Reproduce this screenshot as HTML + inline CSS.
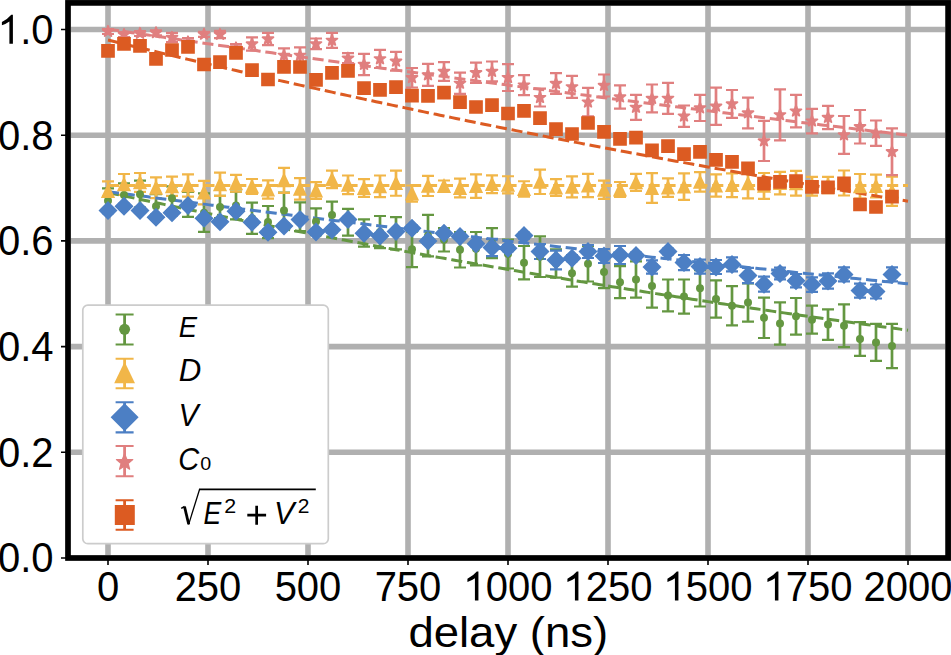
<!DOCTYPE html>
<html><head><meta charset="utf-8"><style>
html,body{margin:0;padding:0;background:#fff;overflow:hidden;width:951px;height:655px;}
svg{display:block;}
</style></head><body>
<svg width="951" height="655" viewBox="0 0 951 655">
<rect width="951" height="655" fill="#fff"/>
<defs><clipPath id="ax"><rect x="68" y="2.9" width="880" height="555.1"/></clipPath></defs>
<g clip-path="url(#ax)"><path d="M108 5.8V555.1M208 5.8V555.1M308 5.8V555.1M408 5.8V555.1M508 5.8V555.1M608 5.8V555.1M708 5.8V555.1M808 5.8V555.1M908 5.8V555.1M70.8 452.3H945.2M70.8 346.6H945.2M70.8 240.9H945.2M70.8 135.2H945.2M70.8 29.5H945.2" stroke="#b0b0b0" stroke-width="5.6" fill="none"/><path d="M108 188.4V213M124 183.4V206.6M140 180.7V207.7M156 194.2V218.2M172 186.3V210.3M188 192V216.8M204 193.4V231.9M220 195.8V218M236 191.6V219.4M252 202.7V233.8M268 206V238.2M284 192.7V228.3M300 202.3V231.1M316 208.3V234.9M332 201.6V228.2M348 208.9V235.6M364 219.4V246.6M380 216V248.2M396 217.1V249.3M412 231.6V267.1M428 214.9V256.4M444 228.2V251.5M460 232.1V267.5M476 232V265.3M492 228.2V258.2M508 239.5V268.5M524 246V279.3M540 236.4V277M556 249.3V277.7M572 260V286.6M588 245.9V281.5M604 255.7V288.1M620 266.2V298.1M636 261.3V297.7M652 264.6V307.6M668 279.5V311.4M684 279.5V313.6M700 270.1V306.5M716 280.4V317.6M732 286.1V325.4M748 283.4V321.6M764 297.7V338M780 302.3V344.7M796 298V334.6M812 305.6V333.7M828 309.4V339.8M844 304.3V347.2M860 322.1V355.8M876 323.9V360.9M892 323.9V368.2" stroke="#649741" stroke-width="2.7" fill="none"/><path d="M102 188.4h12M102 213h12M118 183.4h12M118 206.6h12M134 180.7h12M134 207.7h12M150 194.2h12M150 218.2h12M166 186.3h12M166 210.3h12M182 192h12M182 216.8h12M198 193.4h12M198 231.9h12M214 195.8h12M214 218h12M230 191.6h12M230 219.4h12M246 202.7h12M246 233.8h12M262 206h12M262 238.2h12M278 192.7h12M278 228.3h12M294 202.3h12M294 231.1h12M310 208.3h12M310 234.9h12M326 201.6h12M326 228.2h12M342 208.9h12M342 235.6h12M358 219.4h12M358 246.6h12M374 216h12M374 248.2h12M390 217.1h12M390 249.3h12M406 231.6h12M406 267.1h12M422 214.9h12M422 256.4h12M438 228.2h12M438 251.5h12M454 232.1h12M454 267.5h12M470 232h12M470 265.3h12M486 228.2h12M486 258.2h12M502 239.5h12M502 268.5h12M518 246h12M518 279.3h12M534 236.4h12M534 277h12M550 249.3h12M550 277.7h12M566 260h12M566 286.6h12M582 245.9h12M582 281.5h12M598 255.7h12M598 288.1h12M614 266.2h12M614 298.1h12M630 261.3h12M630 297.7h12M646 264.6h12M646 307.6h12M662 279.5h12M662 311.4h12M678 279.5h12M678 313.6h12M694 270.1h12M694 306.5h12M710 280.4h12M710 317.6h12M726 286.1h12M726 325.4h12M742 283.4h12M742 321.6h12M758 297.7h12M758 338h12M774 302.3h12M774 344.7h12M790 298h12M790 334.6h12M806 305.6h12M806 333.7h12M822 309.4h12M822 339.8h12M838 304.3h12M838 347.2h12M854 322.1h12M854 355.8h12M870 323.9h12M870 360.9h12M886 323.9h12M886 368.2h12" stroke="#649741" stroke-width="2.2" fill="none"/><path d="M108 181.4V196M124 174V194.8M140 173V191.8M156 177.4V198.2M172 176.7V195.9M188 174.3V196.6M204 180.8V204.3M220 172.7V195.8M236 174.85V191.75M252 179V194M268 180.4V198.6M284 167.8V192.8M300 178.05V199.55M316 182.15V198.85M332 170.6V188.2M348 175.5V194.1M364 179.15V196.85M380 175.5V197.1M396 170.65V195.75M412 185.5V201.7M428 175.8V196M444 180.5V191.6M460 178.55V197.45M476 174.3V197.8M492 175.35V193.05M508 176.25V193.35M524 181.25V196.75M540 169.6V194M556 179.15V195.85M572 176.35V197.45M588 173.95V197.05M604 180.7V198.9M620 182V197M636 173.95V190.85M652 173.05V202.95M668 178.4V196.8M684 173.45V199.95M700 172.15V191.65M716 174.3V196.7M732 173.35V197.05M748 168.4V198.4M764 173V198.8M780 171.9V194.3M796 170.9V195.6M812 176.8V195.6M828 176.8V193.2M844 170.5V195.5M860 174V198.6M876 174.7V197.5M892 176.6V205.9" stroke="#f1b648" stroke-width="2.7" fill="none"/><path d="M102 181.4h12M102 196h12M118 174h12M118 194.8h12M134 173h12M134 191.8h12M150 177.4h12M150 198.2h12M166 176.7h12M166 195.9h12M182 174.3h12M182 196.6h12M198 180.8h12M198 204.3h12M214 172.7h12M214 195.8h12M230 174.85h12M230 191.75h12M246 179h12M246 194h12M262 180.4h12M262 198.6h12M278 167.8h12M278 192.8h12M294 178.05h12M294 199.55h12M310 182.15h12M310 198.85h12M326 170.6h12M326 188.2h12M342 175.5h12M342 194.1h12M358 179.15h12M358 196.85h12M374 175.5h12M374 197.1h12M390 170.65h12M390 195.75h12M406 185.5h12M406 201.7h12M422 175.8h12M422 196h12M438 180.5h12M438 191.6h12M454 178.55h12M454 197.45h12M470 174.3h12M470 197.8h12M486 175.35h12M486 193.05h12M502 176.25h12M502 193.35h12M518 181.25h12M518 196.75h12M534 169.6h12M534 194h12M550 179.15h12M550 195.85h12M566 176.35h12M566 197.45h12M582 173.95h12M582 197.05h12M598 180.7h12M598 198.9h12M614 182h12M614 197h12M630 173.95h12M630 190.85h12M646 173.05h12M646 202.95h12M662 178.4h12M662 196.8h12M678 173.45h12M678 199.95h12M694 172.15h12M694 191.65h12M710 174.3h12M710 196.7h12M726 173.35h12M726 197.05h12M742 168.4h12M742 198.4h12M758 173h12M758 198.8h12M774 171.9h12M774 194.3h12M790 170.9h12M790 195.6h12M806 176.8h12M806 195.6h12M822 176.8h12M822 193.2h12M838 170.5h12M838 195.5h12M854 174h12M854 198.6h12M870 174.7h12M870 197.5h12M886 176.6h12M886 205.9h12" stroke="#f1b648" stroke-width="2.2" fill="none"/><path d="M108 208.1V213.1M124 203.8V208.8M140 207.9V212.9M156 214.7V219.7M172 210.3V215.3M188 203V208M204 215.8V220.8M220 219.2V224.2M236 208.7V213.7M252 219.7V224.7M268 229.7V234.7M284 223.5V228.5M300 216.9V221.9M316 229.5V234.5M332 227.3V232.3M348 216.9V221.9M364 230.8V235.8M380 233.5V238.5M396 229.1V234.1M412 225.7V230.7M428 238.5V243.5M444 230.8V235.8M460 233.9V238.9M476 241.3V246.3M492 238.9V256.1M508 245.2V251.2M524 232.6V238.6M540 244V259M556 250.7V269.3M572 255.2V261.2M588 245V258M604 249V263M620 246V264M636 252.5V258.5M652 260.4V273.6M668 248.5V254.5M684 255V270.2M700 259.6V273.6M716 260V274M732 257.4V271.4M748 267.9V283.1M764 276.7V291.7M780 267.7V279.3M796 274V287.4M812 277.4V291.8M828 273.35V288.65M844 267.4V281.4M860 283.6V297.6M876 284.5V298.5M892 267.4V281.4" stroke="#4c7fc4" stroke-width="2.7" fill="none"/><path d="M102 208.1h12M102 213.1h12M118 203.8h12M118 208.8h12M134 207.9h12M134 212.9h12M150 214.7h12M150 219.7h12M166 210.3h12M166 215.3h12M182 203h12M182 208h12M198 215.8h12M198 220.8h12M214 219.2h12M214 224.2h12M230 208.7h12M230 213.7h12M246 219.7h12M246 224.7h12M262 229.7h12M262 234.7h12M278 223.5h12M278 228.5h12M294 216.9h12M294 221.9h12M310 229.5h12M310 234.5h12M326 227.3h12M326 232.3h12M342 216.9h12M342 221.9h12M358 230.8h12M358 235.8h12M374 233.5h12M374 238.5h12M390 229.1h12M390 234.1h12M406 225.7h12M406 230.7h12M422 238.5h12M422 243.5h12M438 230.8h12M438 235.8h12M454 233.9h12M454 238.9h12M470 241.3h12M470 246.3h12M486 238.9h12M486 256.1h12M502 245.2h12M502 251.2h12M518 232.6h12M518 238.6h12M534 244h12M534 259h12M550 250.7h12M550 269.3h12M566 255.2h12M566 261.2h12M582 245h12M582 258h12M598 249h12M598 263h12M614 246h12M614 264h12M630 252.5h12M630 258.5h12M646 260.4h12M646 273.6h12M662 248.5h12M662 254.5h12M678 255h12M678 270.2h12M694 259.6h12M694 273.6h12M710 260h12M710 274h12M726 257.4h12M726 271.4h12M742 267.9h12M742 283.1h12M758 276.7h12M758 291.7h12M774 267.7h12M774 279.3h12M790 274h12M790 287.4h12M806 277.4h12M806 291.8h12M822 273.35h12M822 288.65h12M838 267.4h12M838 281.4h12M854 283.6h12M854 297.6h12M870 284.5h12M870 298.5h12M886 267.4h12M886 281.4h12" stroke="#4c7fc4" stroke-width="2.2" fill="none"/><path d="M108 29V34M124 32.1V37.1M140 31V36M156 30.3V35.3M172 32.9V42.1M188 38V46M204 31.8V36.8M220 30.8V38.1M236 44.2V51.8M252 37.4V50.6M268 32.8V45.2M284 48.3V62.3M300 47.3V63.3M316 38.5V49.2M332 32.85V47.85M348 53.2V63.2M364 53.8V75.1M380 49.8V68M396 51.8V70.7M412 68V87.5M428 63.9V85.9M444 62.2V80.8M460 72.7V93.9M476 62.6V82.8M492 61.5V81.4M508 64.2V91M524 75.2V95.1M540 88.7V106.5M556 73.2V93.8M572 75.9V97.9M588 87.9V116.4M604 74.5V96.5M620 85.3V108.7M636 94.9V119.9M652 84.5V112.4M668 82.9V113.8M684 105.5V126.8M700 94.9V121M716 87.7V124.8M732 90V117.9M748 97.6V128.4M764 120.9V161M780 89.3V140.4M796 94.8V127.4M812 108.8V133.3M828 105.8V129.2M844 116V153.9M860 110V143.5M876 120.5V145.8M892 128.4V175.1" stroke="#e07f7f" stroke-width="2.7" fill="none"/><path d="M102 29h12M102 34h12M118 32.1h12M118 37.1h12M134 31h12M134 36h12M150 30.3h12M150 35.3h12M166 32.9h12M166 42.1h12M182 38h12M182 46h12M198 31.8h12M198 36.8h12M214 30.8h12M214 38.1h12M230 44.2h12M230 51.8h12M246 37.4h12M246 50.6h12M262 32.8h12M262 45.2h12M278 48.3h12M278 62.3h12M294 47.3h12M294 63.3h12M310 38.5h12M310 49.2h12M326 32.85h12M326 47.85h12M342 53.2h12M342 63.2h12M358 53.8h12M358 75.1h12M374 49.8h12M374 68h12M390 51.8h12M390 70.7h12M406 68h12M406 87.5h12M422 63.9h12M422 85.9h12M438 62.2h12M438 80.8h12M454 72.7h12M454 93.9h12M470 62.6h12M470 82.8h12M486 61.5h12M486 81.4h12M502 64.2h12M502 91h12M518 75.2h12M518 95.1h12M534 88.7h12M534 106.5h12M550 73.2h12M550 93.8h12M566 75.9h12M566 97.9h12M582 87.9h12M582 116.4h12M598 74.5h12M598 96.5h12M614 85.3h12M614 108.7h12M630 94.9h12M630 119.9h12M646 84.5h12M646 112.4h12M662 82.9h12M662 113.8h12M678 105.5h12M678 126.8h12M694 94.9h12M694 121h12M710 87.7h12M710 124.8h12M726 90h12M726 117.9h12M742 97.6h12M742 128.4h12M758 120.9h12M758 161h12M774 89.3h12M774 140.4h12M790 94.8h12M790 127.4h12M806 108.8h12M806 133.3h12M822 105.8h12M822 129.2h12M838 116h12M838 153.9h12M854 110h12M854 143.5h12M870 120.5h12M870 145.8h12M886 128.4h12M886 175.1h12" stroke="#e07f7f" stroke-width="2.2" fill="none"/><path d="M108 46.9V54.9M124 39.8V47.8M140 41.8V49.8M156 54.9V62.9M172 46V54M188 42.8V50.8M204 60.5V68.5M220 58.2V66.2M236 48.8V56.8M252 66.1V74.1M268 75.5V83.5M284 62.9V70.9M300 63V71M316 75.9V83.9M332 68.8V76.8M348 66.9V74.9M364 84.2V92.2M380 85.9V93.9M396 83.1V91.1M412 91.7V99.7M428 91.8V99.8M444 88.7V96.7M460 98.2V106.2M476 103V111M492 101.2V109.2M508 109.5V117.5M524 106.9V114.9M540 114.1V122.1M556 125.1V133.1M572 130V138M588 119V127M604 127.8V135.8M620 134.8V142.8M636 133.6V141.6M652 146.4V154.4M668 142.1V150.1M684 150.1V158.1M700 147.9V155.9M716 155.8V163.8M732 157.9V165.9M748 164.4V172.4M764 179.7V187.7M780 177.9V185.9M796 177.1V185.1M812 182.8V190.8M828 183.4V191.4M844 179.3V187.3M860 200.5V208.5M876 203V211M892 192.7V200.7" stroke="#dc5b22" stroke-width="2.7" fill="none"/><path d="M102 46.9h12M102 54.9h12M118 39.8h12M118 47.8h12M134 41.8h12M134 49.8h12M150 54.9h12M150 62.9h12M166 46h12M166 54h12M182 42.8h12M182 50.8h12M198 60.5h12M198 68.5h12M214 58.2h12M214 66.2h12M230 48.8h12M230 56.8h12M246 66.1h12M246 74.1h12M262 75.5h12M262 83.5h12M278 62.9h12M278 70.9h12M294 63h12M294 71h12M310 75.9h12M310 83.9h12M326 68.8h12M326 76.8h12M342 66.9h12M342 74.9h12M358 84.2h12M358 92.2h12M374 85.9h12M374 93.9h12M390 83.1h12M390 91.1h12M406 91.7h12M406 99.7h12M422 91.8h12M422 99.8h12M438 88.7h12M438 96.7h12M454 98.2h12M454 106.2h12M470 103h12M470 111h12M486 101.2h12M486 109.2h12M502 109.5h12M502 117.5h12M518 106.9h12M518 114.9h12M534 114.1h12M534 122.1h12M550 125.1h12M550 133.1h12M566 130h12M566 138h12M582 119h12M582 127h12M598 127.8h12M598 135.8h12M614 134.8h12M614 142.8h12M630 133.6h12M630 141.6h12M646 146.4h12M646 154.4h12M662 142.1h12M662 150.1h12M678 150.1h12M678 158.1h12M694 147.9h12M694 155.9h12M710 155.8h12M710 163.8h12M726 157.9h12M726 165.9h12M742 164.4h12M742 172.4h12M758 179.7h12M758 187.7h12M774 177.9h12M774 185.9h12M790 177.1h12M790 185.1h12M806 182.8h12M806 190.8h12M822 183.4h12M822 191.4h12M838 179.3h12M838 187.3h12M854 200.5h12M854 208.5h12M870 203h12M870 211h12M886 192.7h12M886 200.7h12" stroke="#dc5b22" stroke-width="2.2" fill="none"/><path d="M108 192.49L112 193.35L116 194.21L120 195.07L124 195.93L128 196.78L132 197.64L136 198.49L140 199.34L144 200.18L148 201.03L152 201.87L156 202.71L160 203.55L164 204.39L168 205.22L172 206.06L176 206.89L180 207.72L184 208.54L188 209.37L192 210.19L196 211.01L200 211.83L204 212.65L208 213.47L212 214.28L216 215.09L220 215.9L224 216.71L228 217.51L232 218.32L236 219.12L240 219.92L244 220.72L248 221.52L252 222.31L256 223.1L260 223.89L264 224.68L268 225.47L272 226.25L276 227.04L280 227.82L284 228.6L288 229.38L292 230.15L296 230.93L300 231.7L304 232.47L308 233.24L312 234.01L316 234.77L320 235.53L324 236.29L328 237.05L332 237.81L336 238.57L340 239.32L344 240.08L348 240.83L352 241.57L356 242.32L360 243.07L364 243.81L368 244.55L372 245.29L376 246.03L380 246.77L384 247.5L388 248.24L392 248.97L396 249.7L400 250.43L404 251.15L408 251.88L412 252.6L416 253.32L420 254.04L424 254.76L428 255.47L432 256.19L436 256.9L440 257.61L444 258.32L448 259.03L452 259.73L456 260.44L460 261.14L464 261.84L468 262.54L472 263.24L476 263.93L480 264.63L484 265.32L488 266.01L492 266.7L496 267.39L500 268.08L504 268.76L508 269.44L512 270.13L516 270.81L520 271.48L524 272.16L528 272.83L532 273.51L536 274.18L540 274.85L544 275.52L548 276.19L552 276.85L556 277.52L560 278.18L564 278.84L568 279.5L572 280.15L576 280.81L580 281.47L584 282.12L588 282.77L592 283.42L596 284.07L600 284.72L604 285.36L608 286L612 286.65L616 287.29L620 287.93L624 288.56L628 289.2L632 289.83L636 290.47L640 291.1L644 291.73L648 292.36L652 292.99L656 293.61L660 294.24L664 294.86L668 295.48L672 296.1L676 296.72L680 297.34L684 297.95L688 298.57L692 299.18L696 299.79L700 300.4L704 301.01L708 301.61L712 302.22L716 302.82L720 303.43L724 304.03L728 304.63L732 305.22L736 305.82L740 306.42L744 307.01L748 307.6L752 308.19L756 308.78L760 309.37L764 309.96L768 310.55L772 311.13L776 311.71L780 312.29L784 312.88L788 313.45L792 314.03L796 314.61L800 315.18L804 315.76L808 316.33L812 316.9L816 317.47L820 318.04L824 318.6L828 319.17L832 319.73L836 320.29L840 320.86L844 321.42L848 321.97L852 322.53L856 323.09L860 323.64L864 324.2L868 324.75L872 325.3L876 325.85L880 326.4L884 326.94L888 327.49L892 328.03L896 328.58L900 329.12L904 329.66L908 330.2" stroke="#649741" stroke-width="3" fill="none" stroke-dasharray="11.1 4.8"/><path d="M108 185.6L112 185.6L116 185.6L120 185.6L124 185.6L128 185.6L132 185.6L136 185.6L140 185.6L144 185.6L148 185.6L152 185.6L156 185.6L160 185.6L164 185.6L168 185.6L172 185.6L176 185.6L180 185.6L184 185.6L188 185.6L192 185.6L196 185.6L200 185.6L204 185.6L208 185.6L212 185.6L216 185.6L220 185.6L224 185.6L228 185.6L232 185.6L236 185.6L240 185.6L244 185.6L248 185.6L252 185.6L256 185.6L260 185.6L264 185.6L268 185.6L272 185.6L276 185.6L280 185.6L284 185.6L288 185.6L292 185.6L296 185.6L300 185.6L304 185.6L308 185.6L312 185.6L316 185.6L320 185.6L324 185.6L328 185.6L332 185.6L336 185.6L340 185.6L344 185.6L348 185.6L352 185.6L356 185.6L360 185.6L364 185.6L368 185.6L372 185.6L376 185.6L380 185.6L384 185.6L388 185.6L392 185.6L396 185.6L400 185.6L404 185.6L408 185.6L412 185.6L416 185.6L420 185.6L424 185.6L428 185.6L432 185.6L436 185.6L440 185.6L444 185.6L448 185.6L452 185.6L456 185.6L460 185.6L464 185.6L468 185.6L472 185.6L476 185.6L480 185.6L484 185.6L488 185.6L492 185.6L496 185.6L500 185.6L504 185.6L508 185.6L512 185.6L516 185.6L520 185.6L524 185.6L528 185.6L532 185.6L536 185.6L540 185.6L544 185.6L548 185.6L552 185.6L556 185.6L560 185.6L564 185.6L568 185.6L572 185.6L576 185.6L580 185.6L584 185.6L588 185.6L592 185.6L596 185.6L600 185.6L604 185.6L608 185.6L612 185.6L616 185.6L620 185.6L624 185.6L628 185.6L632 185.6L636 185.6L640 185.6L644 185.6L648 185.6L652 185.6L656 185.6L660 185.6L664 185.6L668 185.6L672 185.6L676 185.6L680 185.6L684 185.6L688 185.6L692 185.6L696 185.6L700 185.6L704 185.6L708 185.6L712 185.6L716 185.6L720 185.6L724 185.6L728 185.6L732 185.6L736 185.6L740 185.6L744 185.6L748 185.6L752 185.6L756 185.6L760 185.6L764 185.6L768 185.6L772 185.6L776 185.6L780 185.6L784 185.6L788 185.6L792 185.6L796 185.6L800 185.6L804 185.6L808 185.6L812 185.6L816 185.6L820 185.6L824 185.6L828 185.6L832 185.6L836 185.6L840 185.6L844 185.6L848 185.6L852 185.6L856 185.6L860 185.6L864 185.6L868 185.6L872 185.6L876 185.6L880 185.6L884 185.6L888 185.6L892 185.6L896 185.6L900 185.6L904 185.6L908 185.6" stroke="#f1b648" stroke-width="3" fill="none" stroke-dasharray="11.1 4.8"/><path d="M108 191.59L112 192.12L116 192.65L120 193.18L124 193.71L128 194.24L132 194.76L136 195.29L140 195.81L144 196.34L148 196.86L152 197.39L156 197.91L160 198.43L164 198.95L168 199.47L172 199.99L176 200.51L180 201.03L184 201.54L188 202.06L192 202.57L196 203.09L200 203.6L204 204.12L208 204.63L212 205.14L216 205.65L220 206.16L224 206.67L228 207.18L232 207.69L236 208.2L240 208.7L244 209.21L248 209.71L252 210.22L256 210.72L260 211.22L264 211.73L268 212.23L272 212.73L276 213.23L280 213.73L284 214.23L288 214.72L292 215.22L296 215.72L300 216.21L304 216.71L308 217.2L312 217.7L316 218.19L320 218.68L324 219.17L328 219.66L332 220.15L336 220.64L340 221.13L344 221.62L348 222.11L352 222.59L356 223.08L360 223.56L364 224.05L368 224.53L372 225.01L376 225.5L380 225.98L384 226.46L388 226.94L392 227.42L396 227.9L400 228.38L404 228.85L408 229.33L412 229.81L416 230.28L420 230.76L424 231.23L428 231.7L432 232.18L436 232.65L440 233.12L444 233.59L448 234.06L452 234.53L456 235L460 235.46L464 235.93L468 236.4L472 236.86L476 237.33L480 237.79L484 238.26L488 238.72L492 239.18L496 239.64L500 240.1L504 240.57L508 241.03L512 241.48L516 241.94L520 242.4L524 242.86L528 243.31L532 243.77L536 244.22L540 244.68L544 245.13L548 245.59L552 246.04L556 246.49L560 246.94L564 247.39L568 247.84L572 248.29L576 248.74L580 249.19L584 249.63L588 250.08L592 250.53L596 250.97L600 251.42L604 251.86L608 252.3L612 252.75L616 253.19L620 253.63L624 254.07L628 254.51L632 254.95L636 255.39L640 255.83L644 256.27L648 256.7L652 257.14L656 257.57L660 258.01L664 258.44L668 258.88L672 259.31L676 259.74L680 260.18L684 260.61L688 261.04L692 261.47L696 261.9L700 262.33L704 262.75L708 263.18L712 263.61L716 264.04L720 264.46L724 264.89L728 265.31L732 265.73L736 266.16L740 266.58L744 267L748 267.42L752 267.84L756 268.26L760 268.68L764 269.1L768 269.52L772 269.94L776 270.36L780 270.77L784 271.19L788 271.6L792 272.02L796 272.43L800 272.85L804 273.26L808 273.67L812 274.08L816 274.5L820 274.91L824 275.32L828 275.73L832 276.13L836 276.54L840 276.95L844 277.36L848 277.76L852 278.17L856 278.57L860 278.98L864 279.38L868 279.79L872 280.19L876 280.59L880 280.99L884 281.39L888 281.8L892 282.2L896 282.59L900 282.99L904 283.39L908 283.79" stroke="#4c7fc4" stroke-width="3" fill="none" stroke-dasharray="11.1 4.8"/><path d="M108 29.13L112 29.72L116 30.31L120 30.9L124 31.49L128 32.08L132 32.67L136 33.26L140 33.84L144 34.43L148 35.02L152 35.6L156 36.19L160 36.77L164 37.35L168 37.93L172 38.52L176 39.1L180 39.68L184 40.26L188 40.84L192 41.42L196 41.99L200 42.57L204 43.15L208 43.72L212 44.3L216 44.87L220 45.45L224 46.02L228 46.59L232 47.16L236 47.74L240 48.31L244 48.88L248 49.45L252 50.02L256 50.58L260 51.15L264 51.72L268 52.28L272 52.85L276 53.41L280 53.98L284 54.54L288 55.11L292 55.67L296 56.23L300 56.79L304 57.35L308 57.91L312 58.47L316 59.03L320 59.59L324 60.15L328 60.7L332 61.26L336 61.82L340 62.37L344 62.92L348 63.48L352 64.03L356 64.58L360 65.14L364 65.69L368 66.24L372 66.79L376 67.34L380 67.89L384 68.43L388 68.98L392 69.53L396 70.08L400 70.62L404 71.17L408 71.71L412 72.25L416 72.8L420 73.34L424 73.88L428 74.42L432 74.97L436 75.51L440 76.05L444 76.58L448 77.12L452 77.66L456 78.2L460 78.74L464 79.27L468 79.81L472 80.34L476 80.88L480 81.41L484 81.94L488 82.48L492 83.01L496 83.54L500 84.07L504 84.6L508 85.13L512 85.66L516 86.19L520 86.71L524 87.24L528 87.77L532 88.29L536 88.82L540 89.34L544 89.87L548 90.39L552 90.91L556 91.44L560 91.96L564 92.48L568 93L572 93.52L576 94.04L580 94.56L584 95.08L588 95.6L592 96.11L596 96.63L600 97.15L604 97.66L608 98.18L612 98.69L616 99.2L620 99.72L624 100.23L628 100.74L632 101.25L636 101.76L640 102.27L644 102.78L648 103.29L652 103.8L656 104.31L660 104.82L664 105.32L668 105.83L672 106.34L676 106.84L680 107.35L684 107.85L688 108.35L692 108.86L696 109.36L700 109.86L704 110.36L708 110.86L712 111.36L716 111.86L720 112.36L724 112.86L728 113.36L732 113.86L736 114.35L740 114.85L744 115.34L748 115.84L752 116.33L756 116.83L760 117.32L764 117.82L768 118.31L772 118.8L776 119.29L780 119.78L784 120.27L788 120.76L792 121.25L796 121.74L800 122.23L804 122.71L808 123.2L812 123.69L816 124.17L820 124.66L824 125.14L828 125.63L832 126.11L836 126.59L840 127.08L844 127.56L848 128.04L852 128.52L856 129L860 129.48L864 129.96L868 130.44L872 130.92L876 131.4L880 131.87L884 132.35L888 132.83L892 133.3L896 133.78L900 134.25L904 134.72L908 135.2" stroke="#e07f7f" stroke-width="3" fill="none" stroke-dasharray="11.1 4.8"/><path d="M108 40.04L112 41.03L116 42.01L120 42.99L124 43.97L128 44.95L132 45.92L136 46.9L140 47.87L144 48.84L148 49.81L152 50.77L156 51.73L160 52.7L164 53.65L168 54.61L172 55.57L176 56.52L180 57.47L184 58.42L188 59.37L192 60.31L196 61.26L200 62.2L204 63.14L208 64.07L212 65.01L216 65.94L220 66.87L224 67.8L228 68.73L232 69.65L236 70.58L240 71.5L244 72.42L248 73.33L252 74.25L256 75.16L260 76.07L264 76.98L268 77.89L272 78.8L276 79.7L280 80.6L284 81.5L288 82.4L292 83.3L296 84.19L300 85.09L304 85.98L308 86.87L312 87.75L316 88.64L320 89.52L324 90.4L328 91.28L332 92.16L336 93.04L340 93.91L344 94.78L348 95.65L352 96.52L356 97.39L360 98.25L364 99.12L368 99.98L372 100.84L376 101.69L380 102.55L384 103.4L388 104.26L392 105.11L396 105.95L400 106.8L404 107.65L408 108.49L412 109.33L416 110.17L420 111.01L424 111.85L428 112.68L432 113.51L436 114.34L440 115.17L444 116L448 116.83L452 117.65L456 118.47L460 119.29L464 120.11L468 120.93L472 121.75L476 122.56L480 123.37L484 124.18L488 124.99L492 125.8L496 126.6L500 127.41L504 128.21L508 129.01L512 129.81L516 130.61L520 131.4L524 132.2L528 132.99L532 133.78L536 134.57L540 135.35L544 136.14L548 136.92L552 137.71L556 138.49L560 139.27L564 140.04L568 140.82L572 141.59L576 142.37L580 143.14L584 143.91L588 144.67L592 145.44L596 146.2L600 146.97L604 147.73L608 148.49L612 149.25L616 150L620 150.76L624 151.51L628 152.26L632 153.01L636 153.76L640 154.51L644 155.26L648 156L652 156.74L656 157.48L660 158.22L664 158.96L668 159.7L672 160.43L676 161.17L680 161.9L684 162.63L688 163.36L692 164.09L696 164.81L700 165.54L704 166.26L708 166.98L712 167.7L716 168.42L720 169.14L724 169.85L728 170.57L732 171.28L736 171.99L740 172.7L744 173.41L748 174.11L752 174.82L756 175.52L760 176.23L764 176.93L768 177.63L772 178.32L776 179.02L780 179.72L784 180.41L788 181.1L792 181.79L796 182.48L800 183.17L804 183.86L808 184.54L812 185.23L816 185.91L820 186.59L824 187.27L828 187.95L832 188.62L836 189.3L840 189.97L844 190.65L848 191.32L852 191.99L856 192.66L860 193.32L864 193.99L868 194.65L872 195.32L876 195.98L880 196.64L884 197.3L888 197.96L892 198.61L896 199.27L900 199.92L904 200.57L908 201.22" stroke="#dc5b22" stroke-width="3" fill="none" stroke-dasharray="11.1 4.8"/><g fill="#649741"><circle cx="108" cy="200.7" r="4"/><circle cx="124" cy="195" r="4"/><circle cx="140" cy="194.2" r="4"/><circle cx="156" cy="206.2" r="4"/><circle cx="172" cy="198.3" r="4"/><circle cx="188" cy="204.4" r="4"/><circle cx="204" cy="212.65" r="4"/><circle cx="220" cy="206.9" r="4"/><circle cx="236" cy="205.5" r="4"/><circle cx="252" cy="218.25" r="4"/><circle cx="268" cy="222.1" r="4"/><circle cx="284" cy="210.5" r="4"/><circle cx="300" cy="216.7" r="4"/><circle cx="316" cy="221.6" r="4"/><circle cx="332" cy="214.9" r="4"/><circle cx="348" cy="222.25" r="4"/><circle cx="364" cy="233" r="4"/><circle cx="380" cy="232.1" r="4"/><circle cx="396" cy="233.2" r="4"/><circle cx="412" cy="249.35" r="4"/><circle cx="428" cy="235.65" r="4"/><circle cx="444" cy="239.85" r="4"/><circle cx="460" cy="249.8" r="4"/><circle cx="476" cy="248.65" r="4"/><circle cx="492" cy="243.2" r="4"/><circle cx="508" cy="254" r="4"/><circle cx="524" cy="262.65" r="4"/><circle cx="540" cy="256.7" r="4"/><circle cx="556" cy="263.5" r="4"/><circle cx="572" cy="273.3" r="4"/><circle cx="588" cy="263.7" r="4"/><circle cx="604" cy="271.9" r="4"/><circle cx="620" cy="282.15" r="4"/><circle cx="636" cy="279.5" r="4"/><circle cx="652" cy="286.1" r="4"/><circle cx="668" cy="295.45" r="4"/><circle cx="684" cy="296.55" r="4"/><circle cx="700" cy="288.3" r="4"/><circle cx="716" cy="299" r="4"/><circle cx="732" cy="305.75" r="4"/><circle cx="748" cy="302.5" r="4"/><circle cx="764" cy="317.85" r="4"/><circle cx="780" cy="323.5" r="4"/><circle cx="796" cy="316.3" r="4"/><circle cx="812" cy="319.65" r="4"/><circle cx="828" cy="324.6" r="4"/><circle cx="844" cy="325.75" r="4"/><circle cx="860" cy="338.95" r="4"/><circle cx="876" cy="342.4" r="4"/><circle cx="892" cy="346.05" r="4"/></g><path d="M108 183L115.1 197.9L100.9 197.9ZM124 176.4L131.1 191.3L116.9 191.3ZM140 174.4L147.1 189.3L132.9 189.3ZM156 179.8L163.1 194.7L148.9 194.7ZM172 178.3L179.1 193.2L164.9 193.2ZM188 177.45L195.1 192.35L180.9 192.35ZM204 184.55L211.1 199.45L196.9 199.45ZM220 176.25L227.1 191.15L212.9 191.15ZM236 175.3L243.1 190.2L228.9 190.2ZM252 178.5L259.1 193.4L244.9 193.4ZM268 181.5L275.1 196.4L260.9 196.4ZM284 172.3L291.1 187.2L276.9 187.2ZM300 180.8L307.1 195.7L292.9 195.7ZM316 182.5L323.1 197.4L308.9 197.4ZM332 171.4L339.1 186.3L324.9 186.3ZM348 176.8L355.1 191.7L340.9 191.7ZM364 180L371.1 194.9L356.9 194.9ZM380 178.3L387.1 193.2L372.9 193.2ZM396 175.2L403.1 190.1L388.9 190.1ZM412 185.6L419.1 200.5L404.9 200.5ZM428 177.9L435.1 192.8L420.9 192.8ZM444 178.05L451.1 192.95L436.9 192.95ZM460 180L467.1 194.9L452.9 194.9ZM476 178.05L483.1 192.95L468.9 192.95ZM492 176.2L499.1 191.1L484.9 191.1ZM508 176.8L515.1 191.7L500.9 191.7ZM524 181L531.1 195.9L516.9 195.9ZM540 173.8L547.1 188.7L532.9 188.7ZM556 179.5L563.1 194.4L548.9 194.4ZM572 178.9L579.1 193.8L564.9 193.8ZM588 177.5L595.1 192.4L580.9 192.4ZM604 181.8L611.1 196.7L596.9 196.7ZM620 181.5L627.1 196.4L612.9 196.4ZM636 174.4L643.1 189.3L628.9 189.3ZM652 180L659.1 194.9L644.9 194.9ZM668 179.6L675.1 194.5L660.9 194.5ZM684 178.7L691.1 193.6L676.9 193.6ZM700 173.9L707.1 188.8L692.9 188.8ZM716 177.5L723.1 192.4L708.9 192.4ZM732 177.2L739.1 192.1L724.9 192.1ZM748 175.4L755.1 190.3L740.9 190.3ZM764 177.9L771.1 192.8L756.9 192.8ZM780 175.1L787.1 190L772.9 190ZM796 175.25L803.1 190.15L788.9 190.15ZM812 178.2L819.1 193.1L804.9 193.1ZM828 177L835.1 191.9L820.9 191.9ZM844 175L851.1 189.9L836.9 189.9ZM860 178.3L867.1 193.2L852.9 193.2ZM876 178.1L883.1 193L868.9 193ZM892 183.25L899.1 198.15L884.9 198.15Z" fill="#f1b648"/><path d="M108 201.1L117.5 210.6L108 220.1L98.5 210.6ZM124 196.8L133.5 206.3L124 215.8L114.5 206.3ZM140 200.9L149.5 210.4L140 219.9L130.5 210.4ZM156 207.7L165.5 217.2L156 226.7L146.5 217.2ZM172 203.3L181.5 212.8L172 222.3L162.5 212.8ZM188 196L197.5 205.5L188 215L178.5 205.5ZM204 208.8L213.5 218.3L204 227.8L194.5 218.3ZM220 212.2L229.5 221.7L220 231.2L210.5 221.7ZM236 201.7L245.5 211.2L236 220.7L226.5 211.2ZM252 212.7L261.5 222.2L252 231.7L242.5 222.2ZM268 222.7L277.5 232.2L268 241.7L258.5 232.2ZM284 216.5L293.5 226L284 235.5L274.5 226ZM300 209.9L309.5 219.4L300 228.9L290.5 219.4ZM316 222.5L325.5 232L316 241.5L306.5 232ZM332 220.3L341.5 229.8L332 239.3L322.5 229.8ZM348 209.9L357.5 219.4L348 228.9L338.5 219.4ZM364 223.8L373.5 233.3L364 242.8L354.5 233.3ZM380 226.5L389.5 236L380 245.5L370.5 236ZM396 222.1L405.5 231.6L396 241.1L386.5 231.6ZM412 218.7L421.5 228.2L412 237.7L402.5 228.2ZM428 231.5L437.5 241L428 250.5L418.5 241ZM444 223.8L453.5 233.3L444 242.8L434.5 233.3ZM460 226.9L469.5 236.4L460 245.9L450.5 236.4ZM476 234.3L485.5 243.8L476 253.3L466.5 243.8ZM492 238L501.5 247.5L492 257L482.5 247.5ZM508 238.7L517.5 248.2L508 257.7L498.5 248.2ZM524 226.1L533.5 235.6L524 245.1L514.5 235.6ZM540 242L549.5 251.5L540 261L530.5 251.5ZM556 250.5L565.5 260L556 269.5L546.5 260ZM572 248.7L581.5 258.2L572 267.7L562.5 258.2ZM588 242L597.5 251.5L588 261L578.5 251.5ZM604 246.5L613.5 256L604 265.5L594.5 256ZM620 245.5L629.5 255L620 264.5L610.5 255ZM636 246L645.5 255.5L636 265L626.5 255.5ZM652 257.5L661.5 267L652 276.5L642.5 267ZM668 242L677.5 251.5L668 261L658.5 251.5ZM684 253.1L693.5 262.6L684 272.1L674.5 262.6ZM700 257.1L709.5 266.6L700 276.1L690.5 266.6ZM716 257.5L725.5 267L716 276.5L706.5 267ZM732 254.9L741.5 264.4L732 273.9L722.5 264.4ZM748 266L757.5 275.5L748 285L738.5 275.5ZM764 274.7L773.5 284.2L764 293.7L754.5 284.2ZM780 264L789.5 273.5L780 283L770.5 273.5ZM796 271.2L805.5 280.7L796 290.2L786.5 280.7ZM812 275.1L821.5 284.6L812 294.1L802.5 284.6ZM828 271.5L837.5 281L828 290.5L818.5 281ZM844 264.9L853.5 274.4L844 283.9L834.5 274.4ZM860 281.1L869.5 290.6L860 300.1L850.5 290.6ZM876 282L885.5 291.5L876 301L866.5 291.5ZM892 264.9L901.5 274.4L892 283.9L882.5 274.4Z" fill="#4c7fc4"/><path d="M108 25.8L109.35 29.64L113.42 29.74L110.19 32.21L111.35 36.11L108 33.8L104.65 36.11L105.81 32.21L102.58 29.74L106.65 29.64ZM124 28.9L125.35 32.74L129.42 32.84L126.19 35.31L127.35 39.21L124 36.9L120.65 39.21L121.81 35.31L118.58 32.84L122.65 32.74ZM140 27.8L141.35 31.64L145.42 31.74L142.19 34.21L143.35 38.11L140 35.8L136.65 38.11L137.81 34.21L134.58 31.74L138.65 31.64ZM156 27.1L157.35 30.94L161.42 31.04L158.19 33.51L159.35 37.41L156 35.1L152.65 37.41L153.81 33.51L150.58 31.04L154.65 30.94ZM172 31.8L173.35 35.64L177.42 35.74L174.19 38.21L175.35 42.11L172 39.8L168.65 42.11L169.81 38.21L166.58 35.74L170.65 35.64ZM188 36.3L189.35 40.14L193.42 40.24L190.19 42.71L191.35 46.61L188 44.3L184.65 46.61L185.81 42.71L182.58 40.24L186.65 40.14ZM204 28.6L205.35 32.44L209.42 32.54L206.19 35.01L207.35 38.91L204 36.6L200.65 38.91L201.81 35.01L198.58 32.54L202.65 32.44ZM220 28.75L221.35 32.59L225.42 32.69L222.19 35.16L223.35 39.06L220 36.75L216.65 39.06L217.81 35.16L214.58 32.69L218.65 32.59ZM236 42.3L237.35 46.14L241.42 46.24L238.19 48.71L239.35 52.61L236 50.3L232.65 52.61L233.81 48.71L230.58 46.24L234.65 46.14ZM252 38.3L253.35 42.14L257.42 42.24L254.19 44.71L255.35 48.61L252 46.3L248.65 48.61L249.81 44.71L246.58 42.24L250.65 42.14ZM268 33.3L269.35 37.14L273.42 37.24L270.19 39.71L271.35 43.61L268 41.3L264.65 43.61L265.81 39.71L262.58 37.24L266.65 37.14ZM284 49.6L285.35 53.44L289.42 53.54L286.19 56.01L287.35 59.91L284 57.6L280.65 59.91L281.81 56.01L278.58 53.54L282.65 53.44ZM300 49.6L301.35 53.44L305.42 53.54L302.19 56.01L303.35 59.91L300 57.6L296.65 59.91L297.81 56.01L294.58 53.54L298.65 53.44ZM316 38.15L317.35 41.99L321.42 42.09L318.19 44.56L319.35 48.46L316 46.15L312.65 48.46L313.81 44.56L310.58 42.09L314.65 41.99ZM332 34.65L333.35 38.49L337.42 38.59L334.19 41.06L335.35 44.96L332 42.65L328.65 44.96L329.81 41.06L326.58 38.59L330.65 38.49ZM348 52.5L349.35 56.34L353.42 56.44L350.19 58.91L351.35 62.81L348 60.5L344.65 62.81L345.81 58.91L342.58 56.44L346.65 56.34ZM364 58.75L365.35 62.59L369.42 62.69L366.19 65.16L367.35 69.06L364 66.75L360.65 69.06L361.81 65.16L358.58 62.69L362.65 62.59ZM380 53.2L381.35 57.04L385.42 57.14L382.19 59.61L383.35 63.51L380 61.2L376.65 63.51L377.81 59.61L374.58 57.14L378.65 57.04ZM396 55.55L397.35 59.39L401.42 59.49L398.19 61.96L399.35 65.86L396 63.55L392.65 65.86L393.81 61.96L390.58 59.49L394.65 59.39ZM412 72.05L413.35 75.89L417.42 75.99L414.19 78.46L415.35 82.36L412 80.05L408.65 82.36L409.81 78.46L406.58 75.99L410.65 75.89ZM428 69.2L429.35 73.04L433.42 73.14L430.19 75.61L431.35 79.51L428 77.2L424.65 79.51L425.81 75.61L422.58 73.14L426.65 73.04ZM444 65.8L445.35 69.64L449.42 69.74L446.19 72.21L447.35 76.11L444 73.8L440.65 76.11L441.81 72.21L438.58 69.74L442.65 69.64ZM460 77.6L461.35 81.44L465.42 81.54L462.19 84.01L463.35 87.91L460 85.6L456.65 87.91L457.81 84.01L454.58 81.54L458.65 81.44ZM476 67L477.35 70.84L481.42 70.94L478.19 73.41L479.35 77.31L476 75L472.65 77.31L473.81 73.41L470.58 70.94L474.65 70.84ZM492 65.75L493.35 69.59L497.42 69.69L494.19 72.16L495.35 76.06L492 73.75L488.65 76.06L489.81 72.16L486.58 69.69L490.65 69.59ZM508 71.9L509.35 75.74L513.42 75.84L510.19 78.31L511.35 82.21L508 79.9L504.65 82.21L505.81 78.31L502.58 75.84L506.65 75.74ZM524 79.45L525.35 83.29L529.42 83.39L526.19 85.86L527.35 89.76L524 87.45L520.65 89.76L521.81 85.86L518.58 83.39L522.65 83.29ZM540 91.9L541.35 95.74L545.42 95.84L542.19 98.31L543.35 102.21L540 99.9L536.65 102.21L537.81 98.31L534.58 95.84L538.65 95.74ZM556 77.8L557.35 81.64L561.42 81.74L558.19 84.21L559.35 88.11L556 85.8L552.65 88.11L553.81 84.21L550.58 81.74L554.65 81.64ZM572 81.2L573.35 85.04L577.42 85.14L574.19 87.61L575.35 91.51L572 89.2L568.65 91.51L569.81 87.61L566.58 85.14L570.65 85.04ZM588 96.45L589.35 100.29L593.42 100.39L590.19 102.86L591.35 106.76L588 104.45L584.65 106.76L585.81 102.86L582.58 100.39L586.65 100.29ZM604 79.8L605.35 83.64L609.42 83.74L606.19 86.21L607.35 90.11L604 87.8L600.65 90.11L601.81 86.21L598.58 83.74L602.65 83.64ZM620 91.3L621.35 95.14L625.42 95.24L622.19 97.71L623.35 101.61L620 99.3L616.65 101.61L617.81 97.71L614.58 95.24L618.65 95.14ZM636 101.7L637.35 105.54L641.42 105.64L638.19 108.11L639.35 112.01L636 109.7L632.65 112.01L633.81 108.11L630.58 105.64L634.65 105.54ZM652 92.75L653.35 96.59L657.42 96.69L654.19 99.16L655.35 103.06L652 100.75L648.65 103.06L649.81 99.16L646.58 96.69L650.65 96.59ZM668 92.65L669.35 96.49L673.42 96.59L670.19 99.06L671.35 102.96L668 100.65L664.65 102.96L665.81 99.06L662.58 96.59L666.65 96.49ZM684 110.45L685.35 114.29L689.42 114.39L686.19 116.86L687.35 120.76L684 118.45L680.65 120.76L681.81 116.86L678.58 114.39L682.65 114.29ZM700 102.25L701.35 106.09L705.42 106.19L702.19 108.66L703.35 112.56L700 110.25L696.65 112.56L697.81 108.66L694.58 106.19L698.65 106.09ZM716 100.55L717.35 104.39L721.42 104.49L718.19 106.96L719.35 110.86L716 108.55L712.65 110.86L713.81 106.96L710.58 104.49L714.65 104.39ZM732 98.25L733.35 102.09L737.42 102.19L734.19 104.66L735.35 108.56L732 106.25L728.65 108.56L729.81 104.66L726.58 102.19L730.65 102.09ZM748 107.3L749.35 111.14L753.42 111.24L750.19 113.71L751.35 117.61L748 115.3L744.65 117.61L745.81 113.71L742.58 111.24L746.65 111.14ZM764 135.25L765.35 139.09L769.42 139.19L766.19 141.66L767.35 145.56L764 143.25L760.65 145.56L761.81 141.66L758.58 139.19L762.65 139.09ZM780 109.15L781.35 112.99L785.42 113.09L782.19 115.56L783.35 119.46L780 117.15L776.65 119.46L777.81 115.56L774.58 113.09L778.65 112.99ZM796 105.4L797.35 109.24L801.42 109.34L798.19 111.81L799.35 115.71L796 113.4L792.65 115.71L793.81 111.81L790.58 109.34L794.65 109.24ZM812 115.35L813.35 119.19L817.42 119.29L814.19 121.76L815.35 125.66L812 123.35L808.65 125.66L809.81 121.76L806.58 119.29L810.65 119.19ZM828 111.8L829.35 115.64L833.42 115.74L830.19 118.21L831.35 122.11L828 119.8L824.65 122.11L825.81 118.21L822.58 115.74L826.65 115.64ZM844 129.25L845.35 133.09L849.42 133.19L846.19 135.66L847.35 139.56L844 137.25L840.65 139.56L841.81 135.66L838.58 133.19L842.65 133.09ZM860 121.05L861.35 124.89L865.42 124.99L862.19 127.46L863.35 131.36L860 129.05L856.65 131.36L857.81 127.46L854.58 124.99L858.65 124.89ZM876 127.45L877.35 131.29L881.42 131.39L878.19 133.86L879.35 137.76L876 135.45L872.65 137.76L873.81 133.86L870.58 131.39L874.65 131.29ZM892 146.05L893.35 149.89L897.42 149.99L894.19 152.46L895.35 156.36L892 154.05L888.65 156.36L889.81 152.46L886.58 149.99L890.65 149.89Z" fill="#e07f7f" stroke="#e07f7f" stroke-width="1.8" stroke-linejoin="round"/><path d="M101.15 44.05h13.7v13.7h-13.7ZM117.15 36.95h13.7v13.7h-13.7ZM133.15 38.95h13.7v13.7h-13.7ZM149.15 52.05h13.7v13.7h-13.7ZM165.15 43.15h13.7v13.7h-13.7ZM181.15 39.95h13.7v13.7h-13.7ZM197.15 57.65h13.7v13.7h-13.7ZM213.15 55.35h13.7v13.7h-13.7ZM229.15 45.95h13.7v13.7h-13.7ZM245.15 63.25h13.7v13.7h-13.7ZM261.15 72.65h13.7v13.7h-13.7ZM277.15 60.05h13.7v13.7h-13.7ZM293.15 60.15h13.7v13.7h-13.7ZM309.15 73.05h13.7v13.7h-13.7ZM325.15 65.95h13.7v13.7h-13.7ZM341.15 64.05h13.7v13.7h-13.7ZM357.15 81.35h13.7v13.7h-13.7ZM373.15 83.05h13.7v13.7h-13.7ZM389.15 80.25h13.7v13.7h-13.7ZM405.15 88.85h13.7v13.7h-13.7ZM421.15 88.95h13.7v13.7h-13.7ZM437.15 85.85h13.7v13.7h-13.7ZM453.15 95.35h13.7v13.7h-13.7ZM469.15 100.15h13.7v13.7h-13.7ZM485.15 98.35h13.7v13.7h-13.7ZM501.15 106.65h13.7v13.7h-13.7ZM517.15 104.05h13.7v13.7h-13.7ZM533.15 111.25h13.7v13.7h-13.7ZM549.15 122.25h13.7v13.7h-13.7ZM565.15 127.15h13.7v13.7h-13.7ZM581.15 116.15h13.7v13.7h-13.7ZM597.15 124.95h13.7v13.7h-13.7ZM613.15 131.95h13.7v13.7h-13.7ZM629.15 130.75h13.7v13.7h-13.7ZM645.15 143.55h13.7v13.7h-13.7ZM661.15 139.25h13.7v13.7h-13.7ZM677.15 147.25h13.7v13.7h-13.7ZM693.15 145.05h13.7v13.7h-13.7ZM709.15 152.95h13.7v13.7h-13.7ZM725.15 155.05h13.7v13.7h-13.7ZM741.15 161.55h13.7v13.7h-13.7ZM757.15 176.85h13.7v13.7h-13.7ZM773.15 175.05h13.7v13.7h-13.7ZM789.15 174.25h13.7v13.7h-13.7ZM805.15 179.95h13.7v13.7h-13.7ZM821.15 180.55h13.7v13.7h-13.7ZM837.15 176.45h13.7v13.7h-13.7ZM853.15 197.65h13.7v13.7h-13.7ZM869.15 200.15h13.7v13.7h-13.7ZM885.15 189.85h13.7v13.7h-13.7Z" fill="#dc5b22"/></g>
<rect x="82.8" y="305.1" width="245.5" height="238.6" rx="5" fill="#fff" stroke="#cccccc" stroke-width="1.7"/><path d="M124.6 314.5V344.5" stroke="#649741" stroke-width="2.8"/><path d="M115.6 314.5h18M115.6 344.5h18" stroke="#649741" stroke-width="2.1"/><circle cx="124.6" cy="329.3" r="5.5" fill="#649741"/><path d="M124.6 358.7V388.3" stroke="#f1b648" stroke-width="2.8"/><path d="M115.6 358.7h18M115.6 388.3h18" stroke="#f1b648" stroke-width="2.1"/><path d="M124.6 361.7L135 383.2L114.2 383.2Z" fill="#f1b648"/><path d="M124.6 402.2V432.4" stroke="#4c7fc4" stroke-width="2.8"/><path d="M115.6 402.2h18M115.6 432.4h18" stroke="#4c7fc4" stroke-width="2.1"/><path d="M124.6 403.3L138.6 417.3L124.6 431.3L110.6 417.3Z" fill="#4c7fc4"/><path d="M124.6 446V476.2" stroke="#e07f7f" stroke-width="2.8"/><path d="M115.6 446h18M115.6 476.2h18" stroke="#e07f7f" stroke-width="2.1"/><path d="M124.6 453.7L126.77 459.31L132.78 459.64L128.12 463.44L129.65 469.26L124.6 466L119.55 469.26L121.08 463.44L116.42 459.64L122.43 459.31Z" fill="#e07f7f" stroke="#e07f7f" stroke-width="1.2" stroke-linejoin="round"/><path d="M124.6 500.2V529.8" stroke="#dc5b22" stroke-width="2.8"/><path d="M115.6 500.2h18M115.6 529.8h18" stroke="#dc5b22" stroke-width="2.1"/><path d="M114.8 505h20v20h-20Z" fill="#dc5b22"/><text transform="translate(178.78 337.20) scale(0.9123 1.0000)" style="font-family:'Liberation Sans',sans-serif;font-size:30px;font-style:italic;">E</text><text transform="translate(178.76 381.30) scale(1.0404 1.0386)" style="font-family:'Liberation Sans',sans-serif;font-size:30px;font-style:italic;">D</text><text transform="translate(178.40 425.50) scale(1.0001 1.0628)" style="font-family:'Liberation Sans',sans-serif;font-size:30px;font-style:italic;">V</text><text transform="translate(178.35 470.38) scale(0.9701 1.0754)" style="font-family:'Liberation Sans',sans-serif;font-size:30px;font-style:italic;">C</text><text transform="translate(200.31 469.81) scale(0.6573 0.6226)" style="font-family:'Liberation Sans',sans-serif;font-size:30px;">0</text><text transform="translate(203.50 524.20) scale(0.8866 1.0242)" style="font-family:'Liberation Sans',sans-serif;font-size:30px;font-style:italic;">E</text><text transform="translate(224.33 512.60) scale(0.7153 0.6890)" style="font-family:'Liberation Sans',sans-serif;font-size:30px;">2</text><text transform="translate(274.05 524.20) scale(1.0204 1.0242)" style="font-family:'Liberation Sans',sans-serif;font-size:30px;font-style:italic;">V</text><text transform="translate(297.75 512.60) scale(0.7007 0.6890)" style="font-family:'Liberation Sans',sans-serif;font-size:30px;">2</text><path d="M247.3 513.8h18.8v2.7h-18.8zM255.3 505.8h2.7v19h-2.7z" fill="#000"/><path d="M181.2 508.4L184.6 506.5" stroke="#000" stroke-width="1.5" fill="none"/><path d="M184.5 506.6L188.7 524.2" stroke="#000" stroke-width="2.8" fill="none"/><path d="M188.6 524.6L199.6 489.2" stroke="#000" stroke-width="1.3" fill="none"/><path d="M199.0 489.3H315.8" stroke="#000" stroke-width="1.8" fill="none"/>
<rect x="68" y="2.9" width="880.1" height="555.1" fill="none" stroke="#000" stroke-width="5.7"/><path d="M108 558V565M208 558V565M308 558V565M408 558V565M508 558V565M608 558V565M708 558V565M808 558V565M908 558V565M61 558H68M61 452.3H68M61 346.6H68M61 240.9H68M61 135.2H68M61 29.5H68" stroke="#000" stroke-width="1.6"/><g transform="translate(96.88 600.60) scale(1 1.050)" fill="#000"><text x="0.00" y="0" style="font-family:'Liberation Sans',sans-serif;font-size:40px">0</text></g><g transform="translate(174.64 600.60) scale(1 1.050)" fill="#000"><text x="0.00" y="0" style="font-family:'Liberation Sans',sans-serif;font-size:40px">2</text><text x="22.24" y="0" style="font-family:'Liberation Sans',sans-serif;font-size:40px">5</text><text x="44.48" y="0" style="font-family:'Liberation Sans',sans-serif;font-size:40px">0</text></g><g transform="translate(274.64 600.60) scale(1 1.050)" fill="#000"><text x="0.00" y="0" style="font-family:'Liberation Sans',sans-serif;font-size:40px">5</text><text x="22.24" y="0" style="font-family:'Liberation Sans',sans-serif;font-size:40px">0</text><text x="44.48" y="0" style="font-family:'Liberation Sans',sans-serif;font-size:40px">0</text></g><g transform="translate(374.64 600.60) scale(1 1.050)" fill="#000"><text x="0.00" y="0" style="font-family:'Liberation Sans',sans-serif;font-size:40px">7</text><text x="22.24" y="0" style="font-family:'Liberation Sans',sans-serif;font-size:40px">5</text><text x="44.48" y="0" style="font-family:'Liberation Sans',sans-serif;font-size:40px">0</text></g><g transform="translate(463.52 600.60) scale(1 1.050)" fill="#000"><path d="M14.90 0H11.40V-21.2Q7.90 -18.8 3.90 -17.6V-20.7Q9.90 -23.7 13.30 -27.6H14.90Z"/><text x="22.24" y="0" style="font-family:'Liberation Sans',sans-serif;font-size:40px">0</text><text x="44.48" y="0" style="font-family:'Liberation Sans',sans-serif;font-size:40px">0</text><text x="66.72" y="0" style="font-family:'Liberation Sans',sans-serif;font-size:40px">0</text></g><g transform="translate(563.52 600.60) scale(1 1.050)" fill="#000"><path d="M14.90 0H11.40V-21.2Q7.90 -18.8 3.90 -17.6V-20.7Q9.90 -23.7 13.30 -27.6H14.90Z"/><text x="22.24" y="0" style="font-family:'Liberation Sans',sans-serif;font-size:40px">2</text><text x="44.48" y="0" style="font-family:'Liberation Sans',sans-serif;font-size:40px">5</text><text x="66.72" y="0" style="font-family:'Liberation Sans',sans-serif;font-size:40px">0</text></g><g transform="translate(663.52 600.60) scale(1 1.050)" fill="#000"><path d="M14.90 0H11.40V-21.2Q7.90 -18.8 3.90 -17.6V-20.7Q9.90 -23.7 13.30 -27.6H14.90Z"/><text x="22.24" y="0" style="font-family:'Liberation Sans',sans-serif;font-size:40px">5</text><text x="44.48" y="0" style="font-family:'Liberation Sans',sans-serif;font-size:40px">0</text><text x="66.72" y="0" style="font-family:'Liberation Sans',sans-serif;font-size:40px">0</text></g><g transform="translate(763.52 600.60) scale(1 1.050)" fill="#000"><path d="M14.90 0H11.40V-21.2Q7.90 -18.8 3.90 -17.6V-20.7Q9.90 -23.7 13.30 -27.6H14.90Z"/><text x="22.24" y="0" style="font-family:'Liberation Sans',sans-serif;font-size:40px">7</text><text x="44.48" y="0" style="font-family:'Liberation Sans',sans-serif;font-size:40px">5</text><text x="66.72" y="0" style="font-family:'Liberation Sans',sans-serif;font-size:40px">0</text></g><g transform="translate(863.52 600.60) scale(1 1.050)" fill="#000"><text x="0.00" y="0" style="font-family:'Liberation Sans',sans-serif;font-size:40px">2</text><text x="22.24" y="0" style="font-family:'Liberation Sans',sans-serif;font-size:40px">0</text><text x="44.48" y="0" style="font-family:'Liberation Sans',sans-serif;font-size:40px">0</text><text x="66.72" y="0" style="font-family:'Liberation Sans',sans-serif;font-size:40px">0</text></g><g transform="translate(-2.00 572.30) scale(1 1.050)" fill="#000"><text x="0.00" y="0" style="font-family:'Liberation Sans',sans-serif;font-size:40px">0</text><text x="22.24" y="0" style="font-family:'Liberation Sans',sans-serif;font-size:40px">.</text><text x="33.36" y="0" style="font-family:'Liberation Sans',sans-serif;font-size:40px">0</text></g><g transform="translate(-2.00 466.60) scale(1 1.050)" fill="#000"><text x="0.00" y="0" style="font-family:'Liberation Sans',sans-serif;font-size:40px">0</text><text x="22.24" y="0" style="font-family:'Liberation Sans',sans-serif;font-size:40px">.</text><text x="33.36" y="0" style="font-family:'Liberation Sans',sans-serif;font-size:40px">2</text></g><g transform="translate(-2.00 360.90) scale(1 1.050)" fill="#000"><text x="0.00" y="0" style="font-family:'Liberation Sans',sans-serif;font-size:40px">0</text><text x="22.24" y="0" style="font-family:'Liberation Sans',sans-serif;font-size:40px">.</text><text x="33.36" y="0" style="font-family:'Liberation Sans',sans-serif;font-size:40px">4</text></g><g transform="translate(-2.00 255.20) scale(1 1.050)" fill="#000"><text x="0.00" y="0" style="font-family:'Liberation Sans',sans-serif;font-size:40px">0</text><text x="22.24" y="0" style="font-family:'Liberation Sans',sans-serif;font-size:40px">.</text><text x="33.36" y="0" style="font-family:'Liberation Sans',sans-serif;font-size:40px">6</text></g><g transform="translate(-2.00 149.50) scale(1 1.050)" fill="#000"><text x="0.00" y="0" style="font-family:'Liberation Sans',sans-serif;font-size:40px">0</text><text x="22.24" y="0" style="font-family:'Liberation Sans',sans-serif;font-size:40px">.</text><text x="33.36" y="0" style="font-family:'Liberation Sans',sans-serif;font-size:40px">8</text></g><g transform="translate(-2.00 43.80) scale(1 1.050)" fill="#000"><path d="M14.90 0H11.40V-21.2Q7.90 -18.8 3.90 -17.6V-20.7Q9.90 -23.7 13.30 -27.6H14.90Z"/><text x="22.24" y="0" style="font-family:'Liberation Sans',sans-serif;font-size:40px">.</text><text x="33.36" y="0" style="font-family:'Liberation Sans',sans-serif;font-size:40px">0</text></g><text x="0" y="0" text-anchor="middle" transform="translate(508.3 646.8) scale(1.138 1.04)" style="font-family:'Liberation Sans',sans-serif;font-size:40px">delay (ns)</text>
</svg>
</body></html>
